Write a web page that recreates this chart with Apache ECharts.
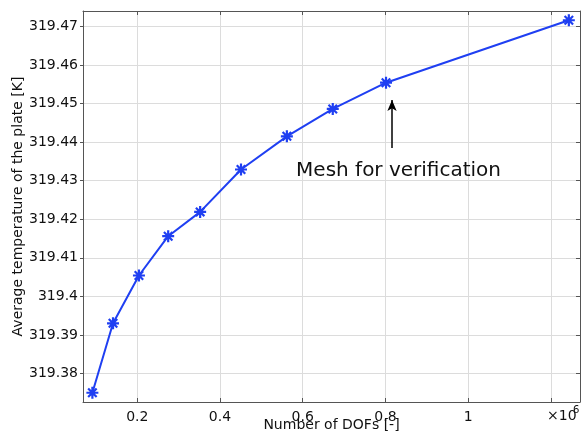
<!DOCTYPE html>
<html>
<head>
<meta charset="utf-8">
<script src="https://cdn.jsdelivr.net/npm/echarts@6/dist/echarts.min.js"></script>
<style>
  html, body { margin: 0; padding: 0; background: #fff; }
  #chart { width: 581px; height: 438px; }
</style>
</head>
<body>
<div id="chart"></div>
<script>
// Mesh convergence: average plate temperature vs number of degrees of freedom
const dofs = [91400, 141300, 204000, 274700, 352000, 450800, 561700, 672700, 801500, 1243600];
const avgTemperature = [319.3750, 319.3930, 319.4054, 319.4156, 319.4219, 319.4329, 319.4415, 319.4486, 319.4554, 319.4716];

// Annotation: arrow pointing at the mesh used for verification
const annotationText = 'Mesh for verification';
const arrowFrom = [816000, 319.4385];
const arrowTo = [816000, 319.4509];
const textAnchor = [584000, 319.4325];

const xRange = [68700, 1270600];
const yRange = [319.3726, 319.4740];
const xScaleExponent = 6;

const fontFamily = 'DejaVu Sans, sans-serif';
const lineBlue = '#1f3ff2';
const frameColor = '#555555';
const gridColor = '#dcdcdc';

// eight-spoke asterisk marker
const asterisk = 'path://M0,-10L0,10M-10,0L10,0M-7.07,-7.07L7.07,7.07M-7.07,7.07L7.07,-7.07';

const chart = echarts.init(document.getElementById('chart'), null, { renderer: 'canvas' });

const frameAxis = {
  axisLine: { show: true, lineStyle: { color: frameColor, width: 1 } },
  axisTick: { show: true, inside: true, length: 4, lineStyle: { color: frameColor } },
  axisLabel: { show: false },
  splitLine: { show: false }
};

chart.setOption({
  animation: false,
  backgroundColor: '#ffffff',
  grid: { left: 83, right: 1, top: 11, bottom: 36, containLabel: false, outerBoundsMode: 'none' },
  xAxis: [
    {
      type: 'value',
      min: xRange[0],
      max: xRange[1],
      splitNumber: 6,
      name: 'Number of DOFs [-]',
      nameLocation: 'middle',
      nameGap: 16,
      nameMoveOverlap: false,
      nameTextStyle: { fontFamily, fontSize: 14, color: '#111' },
      axisLine: { show: true, onZero: false, lineStyle: { color: frameColor, width: 1 } },
      axisTick: { show: true, inside: true, length: 4, lineStyle: { color: frameColor } },
      axisLabel: {
        fontFamily, fontSize: 14, color: '#111', margin: 8,
        showMinLabel: false, showMaxLabel: false,
        // the last label slot is taken by the ×10^6 multiplier
        formatter: v => (v > 1.1e6 ? '' : String(parseFloat((v / 1e6).toFixed(2))))
      },
      splitLine: { show: true, lineStyle: { color: gridColor, width: 1 } }
    },
    Object.assign({ type: 'value', position: 'top', min: xRange[0], max: xRange[1], splitNumber: 6 }, frameAxis)
  ],
  yAxis: [
    {
      type: 'value',
      min: yRange[0],
      max: yRange[1],
      splitNumber: 10,
      name: 'Average temperature of the plate [K]',
      nameLocation: 'middle',
      nameGap: 58,
      nameMoveOverlap: false,
      nameRotate: 90,
      nameTextStyle: { fontFamily, fontSize: 14, color: '#111' },
      axisLine: { show: true, onZero: false, lineStyle: { color: frameColor, width: 1 } },
      axisTick: { show: true, inside: false, length: 3, lineStyle: { color: frameColor } },
      axisLabel: {
        fontFamily, fontSize: 14, color: '#111', margin: 5,
        showMinLabel: false, showMaxLabel: false,
        formatter: v => String(parseFloat(v.toFixed(2)))
      },
      splitLine: { show: true, lineStyle: { color: gridColor, width: 1 } }
    },
    Object.assign({ type: 'value', position: 'right', min: yRange[0], max: yRange[1], splitNumber: 10 }, frameAxis)
  ],
  graphic: [
    {
      type: 'text',
      left: 547,
      top: 409,
      style: { text: '×10', fontFamily, fontSize: 14, fill: '#111' }
    },
    {
      type: 'text',
      left: 573,
      top: 405,
      style: { text: String(xScaleExponent), fontFamily, fontSize: 10, fill: '#111' }
    }
  ],
  series: [
    {
      type: 'line',
      xAxisIndex: 0,
      yAxisIndex: 0,
      data: dofs.map((d, i) => [d, avgTemperature[i]]),
      lineStyle: { color: lineBlue, width: 2 },
      symbol: asterisk,
      symbolSize: 12,
      itemStyle: { color: 'rgba(0,0,0,0)', borderColor: lineBlue, borderWidth: 2.2 },
      markLine: {
        silent: true,
        animation: false,
        symbol: ['none', 'arrow'],
        symbolSize: [7, 11],
        label: { show: false },
        lineStyle: { color: '#000', width: 1.5, type: 'solid' },
        data: [[{ coord: arrowFrom }, { coord: arrowTo }]]
      },
      markPoint: {
        silent: true,
        animation: false,
        symbol: 'circle',
        symbolSize: 0,
        data: [{
          coord: textAnchor,
          label: {
            show: true,
            position: 'right',
            distance: 0,
            formatter: annotationText,
            fontFamily,
            fontSize: 20,
            color: '#111'
          }
        }]
      }
    }
  ]
});
</script>
</body>
</html>
